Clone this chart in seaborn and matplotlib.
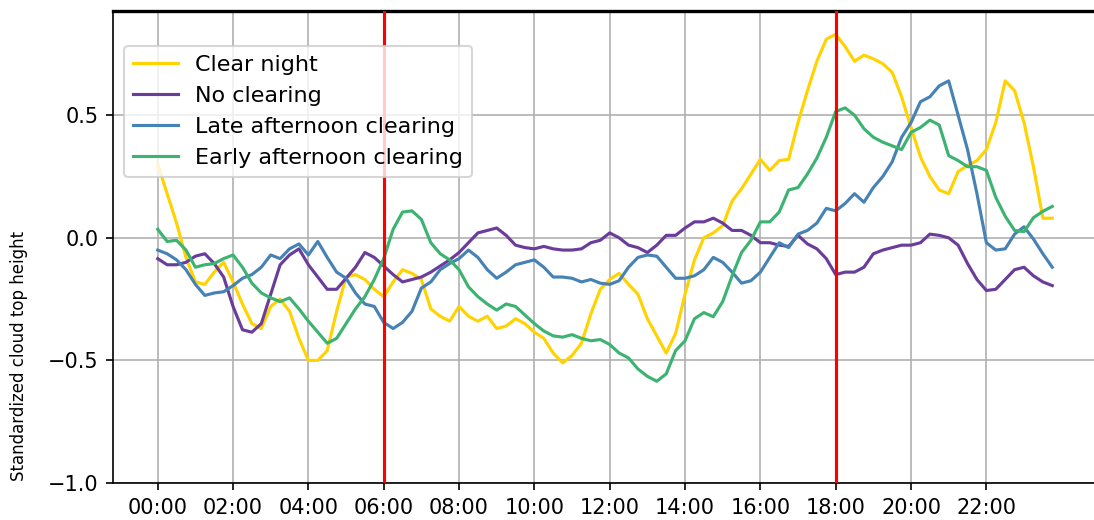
import numpy as np
import pandas as pd
import matplotlib
matplotlib.use("Agg")
import matplotlib.pyplot as plt
import seaborn as sns

# 15-minute slots over one day (index 0..95)
slots = list(range(96))
tick_positions = list(range(0, 96, 8))
tick_labels = ["00:00", "02:00", "04:00", "06:00", "08:00", "10:00",
               "12:00", "14:00", "16:00", "18:00", "20:00", "22:00"]
vlines = [24, 72]

clear_night = [
    0.30, 0.18, 0.06, -0.08, -0.18, -0.19, -0.14, -0.10, -0.18, -0.27,
    -0.35, -0.37, -0.28, -0.25, -0.30, -0.41, -0.50, -0.50, -0.46, -0.30,
    -0.16, -0.15, -0.17, -0.21, -0.24, -0.18, -0.13, -0.145, -0.17, -0.29,
    -0.32, -0.34, -0.28, -0.32, -0.34, -0.32, -0.37, -0.36, -0.33, -0.35,
    -0.385, -0.41, -0.47, -0.51, -0.48, -0.43, -0.31, -0.21, -0.17, -0.145,
    -0.19, -0.23, -0.33, -0.40, -0.47, -0.39, -0.23, -0.09, 0.0, 0.02,
    0.05, 0.15, 0.20, 0.26, 0.32, 0.275, 0.315, 0.32, 0.47, 0.60,
    0.72, 0.81, 0.83, 0.78, 0.72, 0.745, 0.73, 0.71, 0.675, 0.575,
    0.45, 0.33, 0.25, 0.195, 0.18, 0.27, 0.295, 0.315, 0.36, 0.47,
    0.64, 0.60, 0.47, 0.29, 0.08, 0.08]

no_clearing = [
    -0.085, -0.11, -0.11, -0.10, -0.075, -0.065, -0.105, -0.16, -0.28, -0.375,
    -0.385, -0.35, -0.23, -0.11, -0.07, -0.045, -0.11, -0.16, -0.21, -0.21,
    -0.165, -0.12, -0.06, -0.08, -0.115, -0.15, -0.18, -0.17, -0.16, -0.14,
    -0.115, -0.09, -0.06, -0.02, 0.02, 0.03, 0.04, 0.01, -0.03, -0.04,
    -0.045, -0.035, -0.045, -0.05, -0.05, -0.045, -0.02, -0.01, 0.02, 0.0,
    -0.03, -0.04, -0.06, -0.03, 0.01, 0.01, 0.04, 0.065, 0.065, 0.08,
    0.06, 0.03, 0.03, 0.01, -0.02, -0.02, -0.03, -0.035, 0.01, -0.025,
    -0.045, -0.085, -0.15, -0.14, -0.14, -0.12, -0.065, -0.05, -0.04, -0.03,
    -0.03, -0.02, 0.015, 0.01, 0.0, -0.03, -0.105, -0.17, -0.215, -0.21,
    -0.17, -0.13, -0.12, -0.155, -0.18, -0.195]

late_afternoon = [
    -0.05, -0.065, -0.09, -0.13, -0.19, -0.235, -0.225, -0.22, -0.195, -0.165,
    -0.15, -0.12, -0.07, -0.085, -0.045, -0.025, -0.07, -0.015, -0.08, -0.14,
    -0.165, -0.225, -0.27, -0.28, -0.345, -0.37, -0.345, -0.30, -0.205, -0.18,
    -0.13, -0.105, -0.085, -0.05, -0.08, -0.13, -0.165, -0.14, -0.11, -0.10,
    -0.09, -0.12, -0.16, -0.16, -0.165, -0.18, -0.17, -0.185, -0.19, -0.175,
    -0.12, -0.08, -0.07, -0.075, -0.12, -0.165, -0.165, -0.155, -0.13, -0.08,
    -0.10, -0.14, -0.185, -0.175, -0.14, -0.08, -0.02, -0.04, 0.015, 0.03,
    0.06, 0.12, 0.11, 0.14, 0.18, 0.145, 0.205, 0.25, 0.31, 0.41,
    0.47, 0.555, 0.575, 0.62, 0.64, 0.50, 0.36, 0.18, -0.02, -0.05,
    -0.045, 0.015, 0.045, -0.005, -0.065, -0.12]

early_afternoon = [
    0.035, -0.015, -0.01, -0.05, -0.12, -0.11, -0.105, -0.085, -0.07, -0.12,
    -0.185, -0.225, -0.245, -0.26, -0.245, -0.29, -0.34, -0.385, -0.43, -0.41,
    -0.35, -0.29, -0.24, -0.17, -0.085, 0.035, 0.105, 0.11, 0.075, -0.02,
    -0.065, -0.09, -0.13, -0.20, -0.24, -0.27, -0.295, -0.27, -0.28, -0.315,
    -0.35, -0.38, -0.40, -0.405, -0.395, -0.41, -0.42, -0.415, -0.435, -0.47,
    -0.49, -0.535, -0.565, -0.585, -0.555, -0.46, -0.42, -0.33, -0.305, -0.322,
    -0.26, -0.155, -0.06, -0.01, 0.065, 0.065, 0.105, 0.195, 0.205, 0.26,
    0.325, 0.41, 0.515, 0.53, 0.50, 0.445, 0.41, 0.39, 0.375, 0.36,
    0.43, 0.45, 0.48, 0.46, 0.335, 0.315, 0.29, 0.29, 0.275, 0.165,
    0.088, 0.03, 0.025, 0.082, 0.108, 0.128]

series_names = ["Clear night", "No clearing", "Late afternoon clearing",
                "Early afternoon clearing"]
series_values = [clear_night, no_clearing, late_afternoon, early_afternoon]
colors = ["#FFD200", "#6A3D9A", "#4682B4", "#3CB371"]

df = pd.concat([pd.DataFrame({"slot": slots, "value": vals, "group": name})
                for name, vals in zip(series_names, series_values)],
               ignore_index=True)

fig = plt.figure(figsize=(1094 / 150, 520 / 150), dpi=150)
ax = fig.add_axes([113 / 1094, 37 / 520, 984 / 1094, 472 / 520])

sns.lineplot(data=df, x="slot", y="value", hue="group",
             hue_order=series_names, palette=colors, linewidth=1.5, ax=ax)

for v in vlines:
    ax.axvline(v, color="red", linewidth=1.5, zorder=3)

ax.grid(True, color="#b0b0b0", linewidth=0.8)
ax.set_axisbelow(True)
ax.set_xlim(-4.75, 99.75)
ax.set_ylim(-1.0, 0.925)
ax.set_yticks([-1.0, -0.5, 0.0, 0.5])
ax.set_xticks(tick_positions)
ax.set_xticklabels(tick_labels)
ax.set_xlabel("")
ax.set_ylabel("Standardized cloud top height", fontsize=8)
ax.yaxis.set_label_coords(-0.086, 0.27)
for s in ax.spines.values():
    s.set_color("black")
ax.spines["top"].set_linewidth(1.6)

ax.legend(loc="upper left", bbox_to_anchor=(0.0, 0.95), title=None,
          fontsize=10.7)

fig.savefig("out.png", dpi=150)
